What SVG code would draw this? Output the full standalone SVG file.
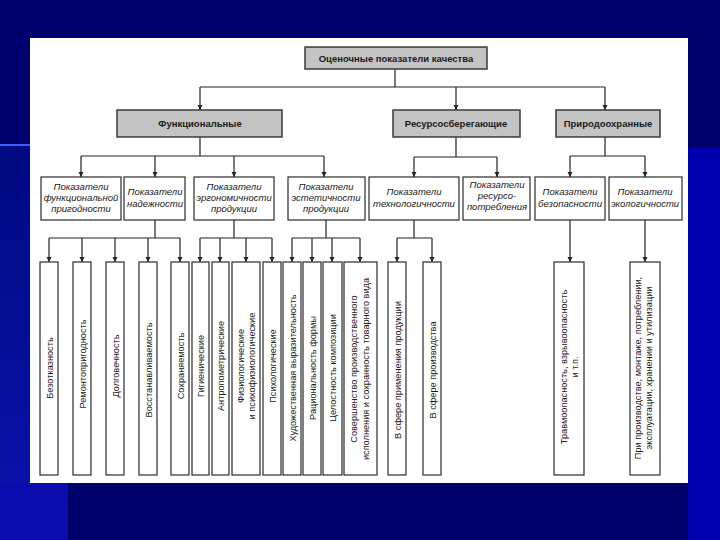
<svg xmlns="http://www.w3.org/2000/svg" width="720" height="540" viewBox="0 0 720 540">
<defs>
<style>
.bgtxt{font-family:"Liberation Sans",Arial,sans-serif}
.gbox{fill:#c4c4c4;stroke:#3a3a3a;stroke-width:1.5}
.box{fill:#ffffff;stroke:#2a2a2a;stroke-width:1.2}
.bt{font-family:"Liberation Sans",Arial,sans-serif;font-weight:bold;font-size:9.5px;fill:#1a1a1a;text-anchor:middle}
.it{font-family:"Liberation Sans",Arial,sans-serif;font-style:italic;font-size:9.5px;fill:#1a1a1a;text-anchor:middle}
.vt{font-family:"Liberation Sans",Arial,sans-serif;font-size:9.2px;fill:#1a1a1a;text-anchor:middle}
.ln{fill:none;stroke:#222;stroke-width:1.2}
.ar{fill:none;stroke:#222;stroke-width:1.2;marker-end:url(#ah)}
</style>
<marker id="ah" viewBox="0 0 10 10" refX="10" refY="5" markerWidth="5" markerHeight="6" orient="auto" markerUnits="userSpaceOnUse">
<path d="M0,0 L10,5 L0,10 z" fill="#222"/>
</marker>
<linearGradient id="lg" x1="0" y1="0" x2="0" y2="1">
<stop offset="0" stop-color="#000a80"/>
<stop offset="1" stop-color="#0c12b0"/>
</linearGradient>
</defs>
<!-- background -->
<rect x="0" y="0" width="720" height="540" fill="#00006c"/>
<rect x="0" y="145" width="30" height="395" fill="url(#lg)"/>
<rect x="0" y="483" width="68" height="57" fill="#0a0cae"/>
<rect x="688" y="148" width="32" height="392" fill="#0000b0"/>
<line x1="0" y1="145" x2="30" y2="145" stroke="#3a60ff" stroke-width="2"/>
<rect x="30" y="38" width="658" height="445" fill="#ffffff"/>

<g id="connectors">
<path class="ln" d="M395,68 V87 M200,87 H605"/>
<path class="ar" d="M200,87 V110"/>
<path class="ar" d="M456,87 V110"/>
<path class="ar" d="M605,87 V110"/>
<path class="ln" d="M200,137 V156 M81,156 H324"/>
<path class="ar" d="M81,156 V177"/>
<path class="ar" d="M155,156 V177"/>
<path class="ar" d="M234,156 V177"/>
<path class="ar" d="M324,156 V177"/>
<path class="ln" d="M456,137 V157 M414,157 H497"/>
<path class="ar" d="M414,157 V177"/>
<path class="ar" d="M497,157 V177"/>
<path class="ln" d="M605,137 V156 M570,156 H645"/>
<path class="ar" d="M570,156 V177"/>
<path class="ar" d="M645,156 V177"/>
<path class="ln" d="M155,220 V238 M49,238 H180"/>
<path class="ar" d="M49,238 V262"/>
<path class="ar" d="M82,238 V262"/>
<path class="ar" d="M115,238 V262"/>
<path class="ar" d="M148,238 V262"/>
<path class="ar" d="M180,238 V262"/>
<path class="ln" d="M234,220 V238 M200,238 H272"/>
<path class="ar" d="M200,238 V262"/>
<path class="ar" d="M220,238 V262"/>
<path class="ar" d="M246,238 V262"/>
<path class="ar" d="M272,238 V262"/>
<path class="ln" d="M326,220 V238 M292,238 H360"/>
<path class="ar" d="M292,238 V262"/>
<path class="ar" d="M312,238 V262"/>
<path class="ar" d="M332,238 V262"/>
<path class="ar" d="M360,238 V262"/>
<path class="ln" d="M414,220 V238 M397,238 H432"/>
<path class="ar" d="M397,238 V262"/>
<path class="ar" d="M432,238 V262"/>
<path class="ar" d="M570,220 V262"/>
<path class="ar" d="M645,220 V262"/>
</g>

<g id="root"><rect class="gbox" x="305" y="47" width="182" height="22"/><text class="bt" x="396" y="61.5">Оценочные показатели качества</text></g>

<g id="func"><rect class="gbox" x="117" y="110" width="165" height="27"/><text class="bt" x="200" y="127">Функциональные</text></g>
<g id="res"><rect class="gbox" x="393" y="110" width="127" height="27"/><text class="bt" x="456" y="127">Ресурсосберегающие</text></g>
<g id="prir"><rect class="gbox" x="556" y="110" width="104" height="27"/><text class="bt" x="608" y="127">Природоохранные</text></g>

<g id="funcprig"><rect class="box" x="41" y="177" width="80" height="43"/><text class="it" x="81" y="190">Показатели<tspan x="81" dy="11">функциональной</tspan><tspan x="81" dy="11">пригодности</tspan></text></g>
<g id="nadezh"><rect class="box" x="124" y="177" width="61" height="43"/><text class="it" x="155" y="195">Показатели<tspan x="155" dy="11.5">надежности</tspan></text></g>
<g id="ergon"><rect class="box" x="194" y="177" width="80" height="43"/><text class="it" x="234" y="190">Показатели<tspan x="234" dy="11">эргономичности</tspan><tspan x="234" dy="11">продукции</tspan></text></g>
<g id="estet"><rect class="box" x="288" y="177" width="77" height="43"/><text class="it" x="326" y="190">Показатели<tspan x="326" dy="11">эстетичности</tspan><tspan x="326" dy="11">продукции</tspan></text></g>
<g id="tehn"><rect class="box" x="369" y="177" width="90" height="43"/><text class="it" x="414" y="195">Показатели<tspan x="414" dy="11.5">технологичности</tspan></text></g>
<g id="respotr"><rect class="box" x="463" y="177" width="67" height="43"/><text class="it" x="497" y="188">Показатели<tspan x="497" dy="11">ресурсо-</tspan><tspan x="497" dy="11">потребления</tspan></text></g>
<g id="bezop"><rect class="box" x="535" y="177" width="70" height="43"/><text class="it" x="570" y="195">Показатели<tspan x="570" dy="11.5">безопасности</tspan></text></g>
<g id="ekol"><rect class="box" x="609" y="177" width="73" height="43"/><text class="it" x="645" y="195">Показатели<tspan x="645" dy="11.5">экологичности</tspan></text></g>

<g id="v1"><rect class="box" x="40" y="262" width="18" height="213"/><text class="vt" transform="translate(52.5,368) rotate(-90)">Безотказность</text></g>
<g id="v2"><rect class="box" x="73" y="262" width="18" height="213"/><text class="vt" transform="translate(85.5,364) rotate(-90)">Ремонтопригодность</text></g>
<g id="v3"><rect class="box" x="106" y="262" width="18" height="213"/><text class="vt" transform="translate(118.5,366) rotate(-90)">Долговечность</text></g>
<g id="v4"><rect class="box" x="139" y="262" width="18" height="213"/><text class="vt" transform="translate(151.5,370) rotate(-90)">Восстанавливаемость</text></g>
<g id="v5"><rect class="box" x="171" y="262" width="18" height="213"/><text class="vt" transform="translate(183.5,366) rotate(-90)">Сохраняемость</text></g>
<g id="v6"><rect class="box" x="192" y="262" width="17" height="213"/><text class="vt" transform="translate(204,366) rotate(-90)">Гигиенические</text></g>
<g id="v7"><rect class="box" x="212" y="262" width="17" height="213"/><text class="vt" transform="translate(224,366) rotate(-90)">Антропометрические</text></g>
<g id="v8"><rect class="box" x="232" y="262" width="28" height="213"/><text class="vt" transform="translate(243.5,366) rotate(-90)">Физиологические<tspan x="0" dy="11">и психофизиологические</tspan></text></g>
<g id="v9"><rect class="box" x="263" y="262" width="18" height="213"/><text class="vt" transform="translate(275.5,366) rotate(-90)">Психологические</text></g>
<g id="v10"><rect class="box" x="283" y="262" width="18" height="213"/><text class="vt" transform="translate(295.5,368) rotate(-90)">Художественная выразительность</text></g>
<g id="v11"><rect class="box" x="303" y="262" width="18" height="213"/><text class="vt" transform="translate(315.5,368) rotate(-90)">Рациональность формы</text></g>
<g id="v12"><rect class="box" x="323" y="262" width="19" height="213"/><text class="vt" transform="translate(336,368) rotate(-90)">Целостность композиции</text></g>
<g id="v13"><rect class="box" x="344" y="262" width="33" height="213"/><text class="vt" transform="translate(357,369) rotate(-90)">Совершенство производственного<tspan x="0" dy="12">исполнения и сохранность товарного вида</tspan></text></g>
<g id="v14"><rect class="box" x="388" y="262" width="18" height="213"/><text class="vt" transform="translate(400.5,370) rotate(-90)">В сфере применения продукции</text></g>
<g id="v15"><rect class="box" x="423" y="262" width="18" height="213"/><text class="vt" transform="translate(435.5,370) rotate(-90)">В сфере производства</text></g>
<g id="v16"><rect class="box" x="554" y="262" width="30" height="213"/><text class="vt" transform="translate(567,367) rotate(-90)">Травмоопасность, взрывоопасность<tspan x="0" dy="11">и т.п.</tspan></text></g>
<g id="v17"><rect class="box" x="630" y="262" width="30" height="213"/><text class="vt" transform="translate(641,368) rotate(-90)">При производстве, монтаже, потреблении,<tspan x="0" dy="11">эксплуатации, хранении и утилизации</tspan></text></g>
</svg>
